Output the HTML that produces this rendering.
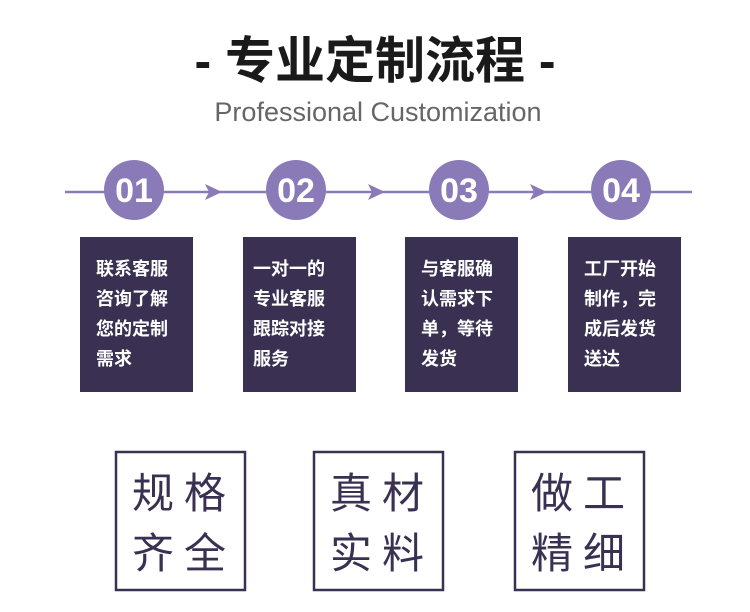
<!DOCTYPE html>
<html><head><meta charset="utf-8"><style>
html,body{margin:0;padding:0;background:#fff;}
svg{display:block;}
</style></head><body>
<svg width="750" height="612" viewBox="0 0 750 612" xmlns="http://www.w3.org/2000/svg">
<g font-family="'Liberation Sans','Noto Sans CJK SC',sans-serif">
<text x="375" y="78" text-anchor="middle" font-size="50" font-weight="bold" fill="#1a1a1a">- 专业定制流程 -</text>
<text x="378" y="121" text-anchor="middle" font-size="27" fill="#666">Professional Customization</text>

<line x1="65" y1="192" x2="692" y2="192" stroke="#8a7bb8" stroke-width="2.5"/>
<g fill="#8a7bb8">
<polygon points="205,184 222,192 205,200 209,192"/>
<polygon points="368,184 385,192 368,200 372,192"/>
<polygon points="530,184 547,192 530,200 534,192"/>
<circle cx="134" cy="190" r="30"/>
<circle cx="296" cy="190" r="30"/>
<circle cx="459" cy="190" r="30"/>
<circle cx="621" cy="190" r="30"/>
</g>
<g fill="#fff" font-size="34" font-weight="bold" text-anchor="middle">
<text x="134" y="202">01</text>
<text x="296" y="202">02</text>
<text x="459" y="202">03</text>
<text x="621" y="202">04</text>
</g>

<g fill="#3a3152">
<rect x="80" y="237" width="113" height="155"/>
<rect x="243" y="237" width="113" height="155"/>
<rect x="405" y="237" width="113" height="155"/>
<rect x="568" y="237" width="113" height="155"/>
</g>
<g fill="#fff" font-size="18" font-weight="bold">
<text x="96" y="275">联系客服</text><text x="96" y="305">咨询了解</text><text x="96" y="335">您的定制</text><text x="96" y="365">需求</text>
<text x="253" y="275">一对一的</text><text x="253" y="305">专业客服</text><text x="253" y="335">跟踪对接</text><text x="253" y="365">服务</text>
<text x="421" y="275">与客服确</text><text x="421" y="305">认需求下</text><text x="421" y="335">单，等待</text><text x="421" y="365">发货</text>
<text x="584" y="275">工厂开始</text><text x="584" y="305">制作，完</text><text x="584" y="335">成后发货</text><text x="584" y="365">送达</text>
</g>

<g fill="none" stroke="#3a3152" stroke-width="2.5">
<rect x="116" y="452" width="129" height="138"/>
<rect x="314" y="452" width="129" height="138"/>
<rect x="515" y="452" width="129" height="138"/>
</g>
<g fill="#3a3152" font-size="42" letter-spacing="10">
<text x="132" y="508">规格</text><text x="132" y="568">齐全</text>
<text x="330" y="508">真材</text><text x="330" y="568">实料</text>
<text x="531" y="508">做工</text><text x="531" y="568">精细</text>
</g>
</g>
</svg>
</body></html>
